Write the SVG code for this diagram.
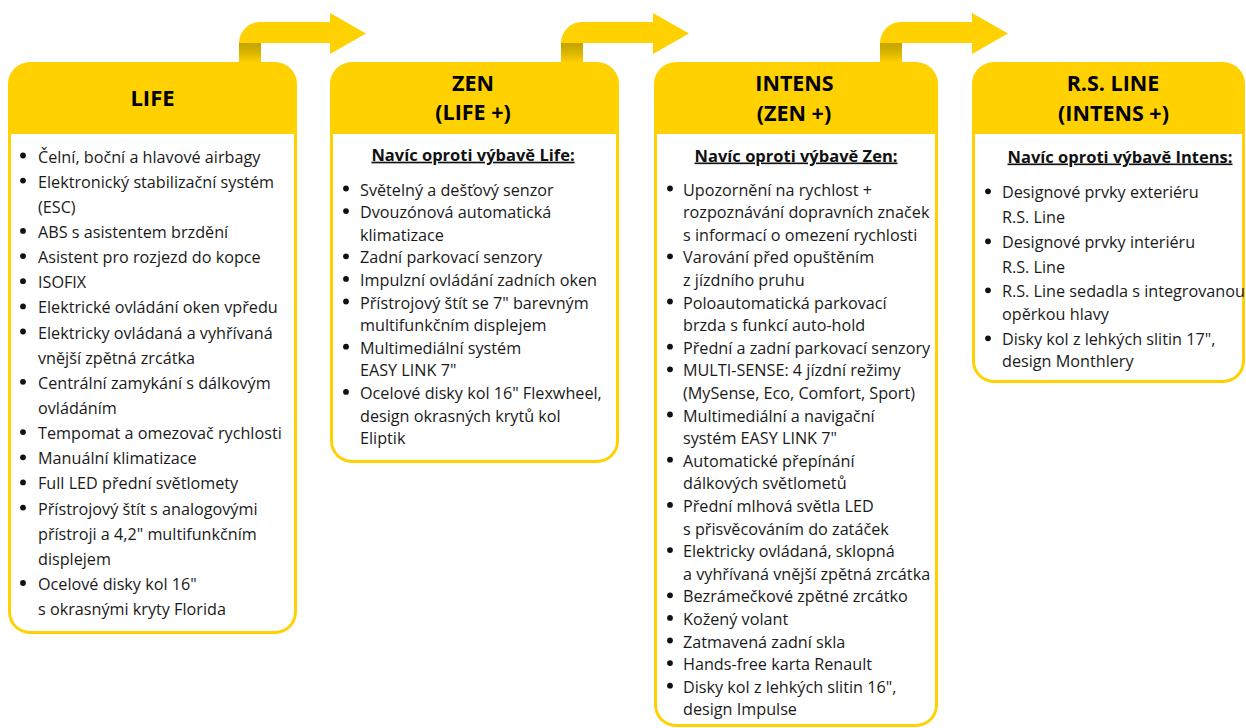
<svg xmlns="http://www.w3.org/2000/svg" width="1246" height="728" viewBox="0 0 1246 728">
<defs>
<linearGradient id="stemG" x1="0" y1="0" x2="0" y2="1">
<stop offset="0" stop-color="#C6A300"/>
<stop offset="0.3" stop-color="#CFAC00"/>
<stop offset="1" stop-color="#FFD100"/>
</linearGradient>
<style>
text{font-family:"Open Sans","Liberation Sans",sans-serif}
.hdr{font-weight:700;font-size:22px;fill:#000;text-anchor:middle}
.h2{font-weight:700;font-size:21.5px;fill:#000;text-anchor:middle}
.sub{font-weight:700;font-size:16.5px;fill:#111;text-anchor:middle;text-decoration:underline}
.t{font-size:16.2px;fill:#1a1a1a}
.y{fill:#FFD100}
.w{fill:#FFFFFF}
.b{fill:#111}
</style>
</defs>
<rect width="1246" height="728" fill="#FFFFFF"/>

<g id="connectors">
<path class="y" d="M239,43 A21,21 0 0 1 260,22 H330 V13 L366,33.5 L330,54 V43 H261 Z"/>
<rect x="239" y="43" width="22" height="20" fill="url(#stemG)"/>
<path class="y" d="M561,43 A21,21 0 0 1 582,22 H653 V13 L689,33.5 L653,54 V43 H583 Z"/>
<rect x="561" y="43" width="22" height="20" fill="url(#stemG)"/>
<path class="y" d="M880,43 A21,21 0 0 1 901,22 H972 V13 L1008,33.5 L972,54 V43 H902 Z"/>
<rect x="880" y="43" width="22" height="20" fill="url(#stemG)"/>
</g>

<g id="node-life">
<rect class="y" x="8" y="62" width="289" height="572" rx="22"/>
<path class="w" d="M11,134 H294 V612 A19,19 0 0 1 275,631 H30 A19,19 0 0 1 11,612 Z"/>
<text class="hdr" x="152.5" y="106">LIFE</text>
<g class="b">
<circle cx="23" cy="155.5" r="2.9"/><circle cx="23" cy="180.6" r="2.9"/><circle cx="23" cy="230.9" r="2.9"/><circle cx="23" cy="256.1" r="2.9"/><circle cx="23" cy="281.2" r="2.9"/><circle cx="23" cy="306.4" r="2.9"/><circle cx="23" cy="331.5" r="2.9"/><circle cx="23" cy="381.8" r="2.9"/><circle cx="23" cy="432.1" r="2.9"/><circle cx="23" cy="457.3" r="2.9"/><circle cx="23" cy="482.4" r="2.9"/><circle cx="23" cy="507.6" r="2.9"/><circle cx="23" cy="583" r="2.9"/>
</g>
<text class="t" x="38" y="162.5">Čelní, boční a hlavové airbagy</text>
<text class="t" x="38" y="187.6">Elektronický stabilizační systém</text>
<text class="t" x="38" y="212.8">(ESC)</text>
<text class="t" x="38" y="237.9">ABS s asistentem brzdění</text>
<text class="t" x="38" y="263.1">Asistent pro rozjezd do kopce</text>
<text class="t" x="38" y="288.2">ISOFIX</text>
<text class="t" x="38" y="313.4">Elektrické ovládání oken vpředu</text>
<text class="t" x="38" y="338.5">Elektricky ovládaná a vyhřívaná</text>
<text class="t" x="38" y="363.7">vnější zpětná zrcátka</text>
<text class="t" x="38" y="388.8">Centrální zamykání s dálkovým</text>
<text class="t" x="38" y="414">ovládáním</text>
<text class="t" x="38" y="439.1">Tempomat a omezovač rychlosti</text>
<text class="t" x="38" y="464.3">Manuální klimatizace</text>
<text class="t" x="38" y="489.4">Full LED přední světlomety</text>
<text class="t" x="38" y="514.6">Přístrojový štít s analogovými</text>
<text class="t" x="38" y="539.7">přístroji a 4,2" multifunkčním</text>
<text class="t" x="38" y="564.9">displejem</text>
<text class="t" x="38" y="590">Ocelové disky kol 16"</text>
<text class="t" x="38" y="615.2">s okrasnými kryty Florida</text>
</g>

<g id="node-zen">
<rect class="y" x="330" y="62" width="289" height="401" rx="22"/>
<path class="w" d="M333,134 H616 V441 A19,19 0 0 1 597,460 H352 A19,19 0 0 1 333,441 Z"/>
<text class="h2" x="473" y="90.5">ZEN</text>
<text class="h2" x="473" y="120.3">(LIFE +)</text>
<text class="sub" x="473" y="160.7">Navíc oproti výbavě Life:</text>
<g class="b">
<circle cx="346" cy="188.5" r="2.9"/><circle cx="346" cy="211.1" r="2.9"/><circle cx="346" cy="256.3" r="2.9"/><circle cx="346" cy="278.9" r="2.9"/><circle cx="346" cy="301.5" r="2.9"/><circle cx="346" cy="346.7" r="2.9"/><circle cx="346" cy="391.9" r="2.9"/>
</g>
<text class="t" x="360" y="195.5">Světelný a dešťový senzor</text>
<text class="t" x="360" y="218.1">Dvouzónová automatická</text>
<text class="t" x="360" y="240.7">klimatizace</text>
<text class="t" x="360" y="263.3">Zadní parkovací senzory</text>
<text class="t" x="360" y="285.9">Impulzní ovládání zadních oken</text>
<text class="t" x="360" y="308.5">Přístrojový štít se 7" barevným</text>
<text class="t" x="360" y="331.1">multifunkčním displejem</text>
<text class="t" x="360" y="353.7">Multimediální systém</text>
<text class="t" x="360" y="376.3">EASY LINK 7"</text>
<text class="t" x="360" y="398.9">Ocelové disky kol 16" Flexwheel,</text>
<text class="t" x="360" y="421.5">design okrasných krytů kol</text>
<text class="t" x="360" y="444.1">Eliptik</text>
</g>

<g id="node-intens">
<rect class="y" x="654" y="62" width="284" height="665" rx="22"/>
<path class="w" d="M657,134 H935 V705 A19,19 0 0 1 916,724 H676 A19,19 0 0 1 657,705 Z"/>
<text class="h2" x="794.5" y="90.8">INTENS</text>
<text class="h2" x="794" y="120.8">(ZEN +)</text>
<text class="sub" x="796" y="161.5">Navíc oproti výbavě Zen:</text>
<g class="b">
<circle cx="670" cy="188.5" r="2.9"/><circle cx="670" cy="256.3" r="2.9"/><circle cx="670" cy="301.5" r="2.9"/><circle cx="670" cy="346.7" r="2.9"/><circle cx="670" cy="369.3" r="2.9"/><circle cx="670" cy="414.5" r="2.9"/><circle cx="670" cy="459.7" r="2.9"/><circle cx="670" cy="504.9" r="2.9"/><circle cx="670" cy="550.1" r="2.9"/><circle cx="670" cy="595.3" r="2.9"/><circle cx="670" cy="617.9" r="2.9"/><circle cx="670" cy="640.5" r="2.9"/><circle cx="670" cy="663.1" r="2.9"/><circle cx="670" cy="685.7" r="2.9"/>
</g>
<text class="t" x="683" y="195.5">Upozornění na rychlost +</text>
<text class="t" x="683" y="218.1">rozpoznávání dopravních značek</text>
<text class="t" x="683" y="240.7">s informací o omezení rychlosti</text>
<text class="t" x="683" y="263.3">Varování před opuštěním</text>
<text class="t" x="683" y="285.9">z jízdního pruhu</text>
<text class="t" x="683" y="308.5">Poloautomatická parkovací</text>
<text class="t" x="683" y="331.1">brzda s funkcí auto-hold</text>
<text class="t" x="683" y="353.7">Přední a zadní parkovací senzory</text>
<text class="t" x="683" y="376.3">MULTI-SENSE: 4 jízdní režimy</text>
<text class="t" x="683" y="398.9">(MySense, Eco, Comfort, Sport)</text>
<text class="t" x="683" y="421.5">Multimediální a navigační</text>
<text class="t" x="683" y="444.1">systém EASY LINK 7"</text>
<text class="t" x="683" y="466.7">Automatické přepínání</text>
<text class="t" x="683" y="489.3">dálkových světlometů</text>
<text class="t" x="683" y="511.9">Přední mlhová světla LED</text>
<text class="t" x="683" y="534.5">s přisvěcováním do zatáček</text>
<text class="t" x="683" y="557.1">Elektricky ovládaná, sklopná</text>
<text class="t" x="683" y="579.7">a vyhřívaná vnější zpětná zrcátka</text>
<text class="t" x="683" y="602.3">Bezrámečkové zpětné zrcátko</text>
<text class="t" x="683" y="624.9">Kožený volant</text>
<text class="t" x="683" y="647.5">Zatmavená zadní skla</text>
<text class="t" x="683" y="670.1">Hands-free karta Renault</text>
<text class="t" x="683" y="692.7">Disky kol z lehkých slitin 16",</text>
<text class="t" x="683" y="715.3">design Impulse</text>
</g>

<g id="node-rsline">
<rect class="y" x="972" y="62" width="273" height="321" rx="22"/>
<path class="w" d="M975,134 H1242 V361 A19,19 0 0 1 1223,380 H994 A19,19 0 0 1 975,361 Z"/>
<text class="h2" x="1113" y="91">R.S. LINE</text>
<text class="h2" x="1113.5" y="121">(INTENS +)</text>
<text class="sub" x="1120" y="162.5">Navíc oproti výbavě Intens:</text>
<g class="b">
<circle cx="988" cy="191.3" r="2.9"/><circle cx="988" cy="241.3" r="2.9"/><circle cx="988" cy="290.3" r="2.9"/><circle cx="988" cy="338.3" r="2.9"/>
</g>
<text class="t" x="1002" y="198.3">Designové prvky exteriéru</text>
<text class="t" x="1002" y="223.3">R.S. Line</text>
<text class="t" x="1002" y="248.3">Designové prvky interiéru</text>
<text class="t" x="1002" y="273.3">R.S. Line</text>
<text class="t" x="1002" y="297.3">R.S. Line sedadla s integrovanou</text>
<text class="t" x="1002" y="320.3">opěrkou hlavy</text>
<text class="t" x="1002" y="345.3">Disky kol z lehkých slitin 17",</text>
<text class="t" x="1002" y="367.3">design Monthlery</text>
</g>
</svg>
